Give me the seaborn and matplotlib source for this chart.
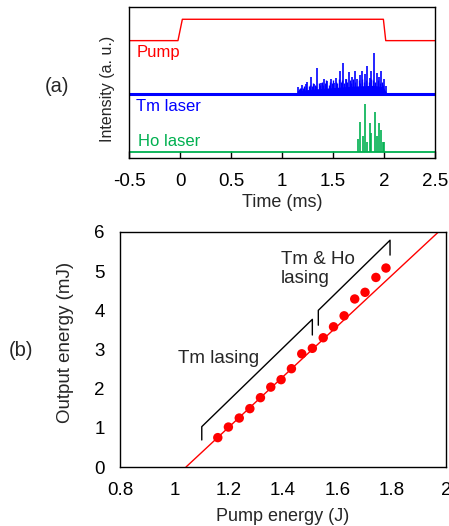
import numpy as np
import pandas as pd
import matplotlib
matplotlib.use("Agg")
import matplotlib.pyplot as plt
import seaborn as sns

# ---------------- data: panel (a) ----------------
pump_t = [-0.5, -0.02, 0.023, 1.994, 2.017, 2.5]
pump_v = [0.778, 0.778, 0.919, 0.919, 0.778, 0.778]

tm_base = 0.428
tm_spike_t = [1.161, 1.200, 1.232, 1.249, 1.281, 1.314, 1.347, 1.379, 1.412, 1.445,
              1.477, 1.510, 1.526, 1.569, 1.602, 1.625, 1.657, 1.690, 1.713, 1.739,
              1.765, 1.788, 1.811, 1.837, 1.863, 1.876, 1.902, 1.932, 1.951, 1.975,
              2.000, 2.017]
tm_spike_h = [0.046, 0.055, 0.061, 0.077, 0.112, 0.061, 0.167, 0.072, 0.094, 0.083,
              0.099, 0.068, 0.105, 0.151, 0.204, 0.094, 0.143, 0.112, 0.151, 0.094,
              0.121, 0.149, 0.127, 0.182, 0.105, 0.149, 0.270, 0.138, 0.112, 0.149,
              0.099, 0.050]
tm_small_t = [1.17, 1.18, 1.19, 1.21, 1.22, 1.24, 1.26, 1.27, 1.29, 1.30, 1.32, 1.33,
              1.36, 1.37, 1.39, 1.40, 1.42, 1.43, 1.46, 1.47, 1.49, 1.50, 1.53, 1.54,
              1.56, 1.58, 1.59, 1.61, 1.63, 1.64, 1.67, 1.68, 1.70, 1.72, 1.75, 1.76,
              1.78, 1.80, 1.82, 1.85, 1.87, 1.89, 1.91, 1.94, 1.96, 1.98, 1.99]
tm_small_h = [0.03, 0.04, 0.035, 0.04, 0.05, 0.045, 0.05, 0.06, 0.05, 0.07, 0.06, 0.05,
              0.07, 0.06, 0.08, 0.06, 0.07, 0.09, 0.06, 0.08, 0.07, 0.09, 0.08, 0.07,
              0.10, 0.08, 0.09, 0.07, 0.10, 0.08, 0.09, 0.07, 0.10, 0.08, 0.09, 0.07,
              0.10, 0.08, 0.09, 0.08, 0.10, 0.09, 0.08, 0.09, 0.07, 0.08, 0.06]
tm_band_t = [1.15, 1.30, 1.50, 1.70, 1.90, 1.99, 2.03]
tm_band_h = [0.02, 0.03, 0.04, 0.05, 0.055, 0.045, 0.0]

ho_base = 0.046
ho_spike_t = [1.745, 1.762, 1.791, 1.817, 1.833, 1.860, 1.876, 1.912, 1.928, 1.948,
              1.966, 1.987, 2.000]
ho_spike_h = [0.081, 0.197, 0.103, 0.314, 0.066, 0.186, 0.120, 0.261, 0.103, 0.186,
              0.143, 0.066, 0.066]

a_xticks = [-0.5, 0, 0.5, 1, 1.5, 2, 2.5]
a_xticklabels = ["-0.5", "0", "0.5", "1", "1.5", "2", "2.5"]

# ---------------- data: panel (b) ----------------
pump_energy = [1.160, 1.199, 1.239, 1.278, 1.317, 1.355, 1.393, 1.431, 1.469, 1.508,
               1.548, 1.586, 1.625, 1.664, 1.702, 1.742, 1.779]
output_energy = [0.75, 1.02, 1.25, 1.49, 1.77, 2.04, 2.23, 2.51, 2.89, 3.03,
                 3.30, 3.58, 3.86, 4.29, 4.46, 4.84, 5.08]
fit_x = [1.043, 1.972]
fit_y = [0.0, 6.0]
tm_bracket_x = [1.101, 1.101, 1.508, 1.508]
tm_bracket_y = [0.69, 1.03, 3.77, 3.37]
tmho_bracket_x = [1.530, 1.530, 1.794, 1.794]
tmho_bracket_y = [3.62, 4.00, 5.79, 5.41]
b_xticks = [0.8, 1.0, 1.2, 1.4, 1.6, 1.8, 2.0]
b_xticklabels = ["0.8", "1", "1.2", "1.4", "1.6", "1.8", "2"]
b_yticks = [0, 1, 2, 3, 4, 5, 6]

RED = "#FF0000"
BLUE = "#0000FF"
GREEN = "#00B050"

sns.set_style("white")
plt.rcParams['font.family'] = ['Liberation Sans', 'DejaVu Sans']

fig = plt.figure(figsize=(4.49, 5.26), dpi=100)
W, H = 449, 526

def add_axes_px(l, t, r, b):
    return fig.add_axes([l / W, 1 - b / H, (r - l) / W, (b - t) / H])

# ---------- panel (a) ----------
ax1 = add_axes_px(129, 7, 435, 158.5)
df_pump = pd.DataFrame({"t": pump_t, "v": pump_v})
sns.lineplot(data=df_pump, x="t", y="v", ax=ax1, color=RED, lw=1.0,
             sort=False, estimator=None)
sns.lineplot(x=[-0.5, 2.5], y=[tm_base, tm_base], ax=ax1, color=BLUE, lw=2.2)
sns.lineplot(x=[-0.5, 2.5], y=[ho_base, ho_base], ax=ax1, color=GREEN, lw=1.3)
ax1.fill_between(tm_band_t, tm_base, [tm_base + h for h in tm_band_h],
                 color=BLUE, lw=0)
ax1.vlines(tm_small_t, tm_base, [tm_base + h for h in tm_small_h], color=BLUE, lw=1.0)
ax1.vlines(tm_spike_t, tm_base, [tm_base + h for h in tm_spike_h], color=BLUE, lw=1.2)
ax1.vlines(ho_spike_t, ho_base, [ho_base + h for h in ho_spike_h], color=GREEN, lw=1.2)

ax1.text(-0.43, 0.697, "Pump", color=RED, fontsize=12, va="center", ha="left")
ax1.text(-0.435, 0.342, "Tm laser", color=BLUE, fontsize=12, va="center", ha="left")
ax1.text(-0.41, 0.112, "Ho laser", color=GREEN, fontsize=12, va="center", ha="left")

ax1.set_xlim(-0.5, 2.5)
ax1.set_ylim(0, 1)
ax1.set_xticks(a_xticks)
ax1.set_xticklabels(a_xticklabels)
ax1.set_yticks([])
ax1.tick_params(axis="x", direction="in", length=5, width=1, pad=10.5,
                labelsize=13.5, bottom=True, colors="black")
ax1.set_xlabel("Time (ms)", fontsize=13)
ax1.set_ylabel("Intensity (a. u.)", fontsize=11.5)
ax1.xaxis.set_label_coords(0.5, -0.234)
ax1.yaxis.set_label_coords(-0.045, 0.46)
for s in ax1.spines.values():
    s.set_color("black")
    s.set_linewidth(1.0)

# ---------- panel (b) ----------
ax2 = add_axes_px(120, 232, 446, 467)
sns.lineplot(x=fit_x, y=fit_y, ax=ax2, color=RED, lw=1.0)
sns.scatterplot(x=pump_energy, y=output_energy, ax=ax2, color=RED, s=46,
                edgecolor="none", zorder=3)
ax2.plot(tm_bracket_x, tm_bracket_y, color="black", lw=1.0)
ax2.plot(tmho_bracket_x, tmho_bracket_y, color="black", lw=1.0)
ax2.text(1.014, 2.78, "Tm lasing", fontsize=13.5, va="center", ha="left")
ax2.text(1.393, 5.05, "Tm & Ho\nlasing", fontsize=13.5, va="center", ha="left",
         linespacing=1.15)

ax2.set_xlim(0.8, 2.0)
ax2.set_ylim(0, 6)
ax2.set_xticks(b_xticks)
ax2.set_xticklabels(b_xticklabels)
ax2.set_yticks(b_yticks)
ax2.tick_params(axis="both", direction="in", length=5, width=1, labelsize=13.5,
                colors="black")
ax2.tick_params(axis="x", pad=10.5)
ax2.tick_params(axis="y", pad=11)
ax2.set_xlabel("Pump energy (J)", fontsize=13)
ax2.set_ylabel("Output energy (mJ)", fontsize=13.5)
ax2.xaxis.set_label_coords(0.5, -0.173)
ax2.yaxis.set_label_coords(-0.141, 0.528)
for s in ax2.spines.values():
    s.set_color("black")
    s.set_linewidth(1.0)

fig.text(45 / W, 1 - 87 / H, "(a)", fontsize=14.5, va="center", ha="left")
fig.text(9 / W, 1 - 350 / H, "(b)", fontsize=14.5, va="center", ha="left")

fig.savefig("out.png", dpi=100)
